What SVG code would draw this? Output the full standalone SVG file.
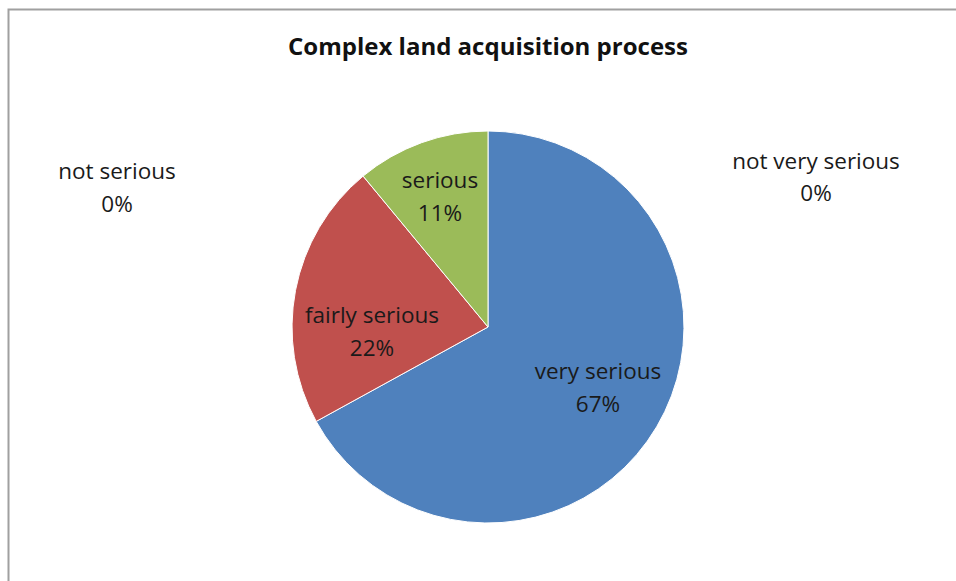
<svg xmlns="http://www.w3.org/2000/svg" width="956" height="581" viewBox="0 0 956 581">
<style>
.lbl{font-family:"Open Sans","Liberation Sans",sans-serif;font-size:22.5px;fill:#1a1a1a;text-anchor:middle}
.title{font-family:"Open Sans","Liberation Sans",sans-serif;font-size:24px;font-weight:bold;fill:#111;text-anchor:middle}
.slice{stroke:#fff;stroke-width:1}
</style>
<rect width="956" height="581" fill="#fff"/>
<path d="M8.5 581 V9.5 H956" fill="none" stroke="#a0a0a0" stroke-width="2"/>
<text class="title" x="488" y="55">Complex land acquisition process</text>
<g id="very-serious">
<path class="slice" d="M488 327 V131 A196 196 0 1 1 316.2 421.4 Z" fill="#4F81BD"/>
<text class="lbl" x="598" y="379">very serious</text>
<text class="lbl" x="598" y="412">67%</text>
</g>
<g id="fairly-serious">
<path class="slice" d="M488 327 L316.2 421.4 A196 196 0 0 1 363.1 176.1 Z" fill="#C0504D"/>
<text class="lbl" x="372" y="323">fairly serious</text>
<text class="lbl" x="372" y="356">22%</text>
</g>
<g id="serious">
<path class="slice" d="M488 327 L363.1 176.1 A196 196 0 0 1 488 131 Z" fill="#9BBB59"/>
<text class="lbl" x="440" y="188">serious</text>
<text class="lbl" x="440" y="221">11%</text>
</g>
<g id="not-serious">
<text class="lbl" x="117" y="179">not serious</text>
<text class="lbl" x="117" y="212">0%</text>
</g>
<g id="not-very-serious">
<text class="lbl" x="816" y="169">not very serious</text>
<text class="lbl" x="816" y="201">0%</text>
</g>
</svg>
